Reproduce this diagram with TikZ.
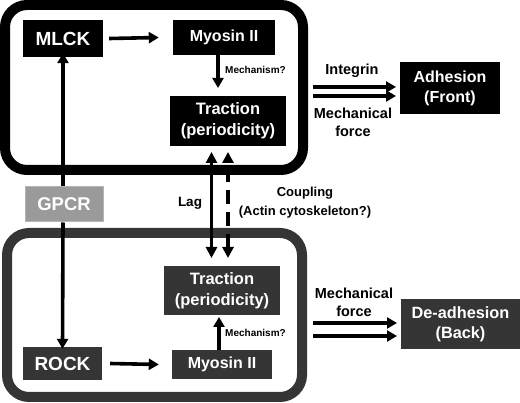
\documentclass[tikz,border=0pt]{standalone}
\usepackage{fontspec}
\setmainfont{Liberation Sans}
\usetikzlibrary{arrows.meta}
\definecolor{dk}{HTML}{353535}
\definecolor{gp}{HTML}{9A9A9A}
\definecolor{gpb}{HTML}{B4B4B4}
\tikzset{
  box/.style={inner sep=0pt, text=white, font=\bfseries, align=center},
  topn/.style={box, fill=black},
  botn/.style={box, fill=dk},
  arr/.style={line width=3.6pt, -{Triangle[length=10pt,width=11pt]}},
  darr/.style={line width=3.6pt, {Triangle[length=11pt,width=11pt]}-{Triangle[length=11pt,width=11pt]}},
  lbl/.style={font=\bfseries, inner sep=0pt, align=center},
}
\begin{document}
\begin{tikzpicture}[x=1pt,y=-1pt]
\useasboundingbox (0,0) rectangle (520,403);
% containers
\draw[line width=10pt, rounded corners=22pt] (5,5) rectangle (303,170);
\draw[line width=10pt, dk, rounded corners=22pt] (7,233) rectangle (302,397);
% top nodes
\node[topn, minimum width=80pt, minimum height=37pt, font=\bfseries\fontsize{19}{22}\selectfont] (mlck) at (63,38.5) {MLCK};
\node[topn, minimum width=102pt, minimum height=35pt, font=\bfseries\fontsize{16}{19}\selectfont] (myo1) at (224,37.5) {Myosin II};
\node[topn, minimum width=116pt, minimum height=50pt, font=\bfseries\fontsize{16.5}{21}\selectfont] (tr1) at (228,121) {Traction\\(periodicity)};
% GPCR
\node[box, fill=gp, draw=gpb, line width=1pt, minimum width=78pt, minimum height=35pt, font=\bfseries\fontsize{18.5}{22}\selectfont] (gpcr) at (64,204.5) {GPCR};
% bottom nodes
\node[botn, minimum width=79pt, minimum height=33pt, font=\bfseries\fontsize{19}{22}\selectfont] (rock) at (62.5,363.5) {ROCK};
\node[botn, minimum width=100pt, minimum height=29pt, font=\bfseries\fontsize{16}{19}\selectfont] (myo2) at (222,364.5) {Myosin II};
\node[botn, minimum width=116pt, minimum height=49pt, font=\bfseries\fontsize{16.5}{21}\selectfont] (tr2) at (222,290.5) {Traction\\(periodicity)};
% right nodes
\node[topn, minimum width=100pt, minimum height=52pt, font=\bfseries\fontsize{16}{20}\selectfont] (adh) at (450,88) {Adhesion\\(Front)};
\node[botn, minimum width=119pt, minimum height=50pt, font=\bfseries\fontsize{16.3}{20}\selectfont] (deadh) at (460.5,324) {De-adhesion\\(Back)};
% arrows top
\draw[arr] ([xshift=6pt]mlck.east) -- ([xshift=-14pt]myo1.west);
\draw[arr] (myo1.south -| 218,0) -- (218,88);
\node[lbl, anchor=west, font=\bfseries\fontsize{10}{12}\selectfont] (mech1) at (225,70) {Mechanism?};
% GPCR arrows
\draw[arr] (gpcr.north -| mlck.south) -- ([yshift=4pt]mlck.south);
\draw[arr] (gpcr.south -| mlck.south) -- ([yshift=-2pt]rock.north);
% bottom arrows
\draw[arr] ([xshift=8pt]rock.east) -- ([xshift=-13pt]myo2.west);
\draw[arr] (219,350) -- (219,317);
\node[lbl, anchor=west, font=\bfseries\fontsize{10}{12}\selectfont] (mech2) at (225,333) {Mechanism?};
% lag / coupling
\coordinate (l1) at (211.5,152);
\coordinate (l2) at (211.5,258);
\coordinate (c1) at (228,152);
\coordinate (c2) at (228,258);
\draw[darr] (l1) -- (l2);
\draw[darr, dash pattern=on 14pt off 8pt, dash phase=-6pt] (c1) -- (c2);
\node[lbl, font=\bfseries\fontsize{13.5}{16}\selectfont] (lag) at (190,203) {Lag};
\node[lbl, font=\bfseries\fontsize{13}{19}\selectfont] (coup) at (305,202.5) {Coupling\\(Actin cytoskeleton?)};
% right arrows top
\coordinate (a1s) at (313,87); \coordinate (a1e) at (396,87);
\coordinate (a2s) at (313,96); \coordinate (a2e) at (396,96);
\draw[arr] (a1s) -- (a1e);
\draw[arr] (a2s) -- (a2e);
\node[lbl, font=\bfseries\fontsize{14.5}{17}\selectfont] (integ) at (352,71) {Integrin};
\node[lbl, font=\bfseries\fontsize{14.5}{18}\selectfont] (mf1) at (353,122) {Mechanical\\force};
% right arrows bottom
\coordinate (b1s) at (313,323); \coordinate (b1e) at (397,323);
\coordinate (b2s) at (313,336); \coordinate (b2e) at (397,336);
\draw[arr] (b1s) -- (b1e);
\draw[arr] (b2s) -- (b2e);
\node[lbl, font=\bfseries\fontsize{14.5}{18}\selectfont] (mf2) at (354,302.5) {Mechanical\\force};
\end{tikzpicture}
\end{document}
